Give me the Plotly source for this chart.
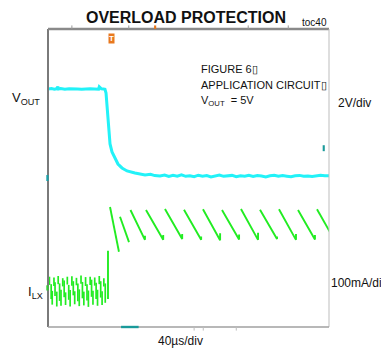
import plotly.graph_objects as go

# ---------------- data (time in µs, VOUT in V, ILX in mA) ----------------
vout_t = [0, 5, 9, 12, 14, 15, 18, 24, 30, 36, 42, 48, 54, 60, 66, 70, 72, 73, 76, 79,
          81.1, 82.6, 84.0, 85.4, 86.8, 88.3, 91.1, 95.4, 99.6, 105.3, 112.5, 123.8,
          130, 138.1, 146, 152, 159.4, 166, 172, 178, 184, 190, 196, 202, 208, 214,
          220, 226, 232, 238, 244, 250, 256, 262, 268, 274, 280, 286, 292, 298, 304,
          310, 316, 322, 328, 334, 340, 346, 352, 358, 364, 370, 376, 382, 388, 394, 400]
vout_v = [4.78, 4.80, 4.77, 4.79, 4.90, 4.78, 4.80, 4.77, 4.79, 4.80, 4.78, 4.77, 4.80,
          4.79, 4.78, 4.80, 4.77, 4.90, 4.79, 4.78,
          4.76, 4.56, 3.92, 3.00, 2.31, 1.83, 1.40, 1.02, 0.75, 0.54, 0.38, 0.27,
          0.22, 0.16, 0.20, 0.13, 0.11, 0.16, 0.08, 0.14, 0.10, 0.17, 0.09, 0.12,
          0.07, 0.15, 0.10, 0.13, 0.06, 0.12, 0.16, 0.09, 0.11, 0.14, 0.07, 0.12,
          0.10, 0.15, 0.08, 0.13, 0.11, 0.06, 0.12, 0.15, 0.09, 0.13, 0.10, 0.07,
          0.12, 0.14, 0.09, 0.11, 0.08, 0.13, 0.15, 0.12, 0.12]

# switching ripple before the overload (vertical dashes)
ilx_pre_t = [2.0, 4.5, 6.0, 8.5, 10.0, 12.5, 14.5, 16.5, 18.5, 21.0, 23.0, 25.0, 27.5,
             29.5, 31.5, 34.0, 36.0, 38.0, 40.5, 42.5, 44.5, 47.0, 49.0, 51.0, 53.5,
             55.5, 57.5, 60.0, 62.0, 64.0, 66.5, 68.5, 70.5, 73.0, 75.0, 77.0, 79.5, 81.5]
ilx_pre_hi = [30, 10, -8, 28, 15, -10, 32, 12, -5, 26, 20, -12, 30, 8, -6, 31, 18, -9,
              27, 12, -4, 33, 16, -10, 29, 10, -7, 30, 22, -8, 28, 14, -5, 32, 18, -9,
              26, 12]
ilx_pre_lo = [8, -30, -45, 5, -22, -50, 10, -35, -48, 4, -25, -46, 9, -32, -50, 6, -20,
              -44, 7, -36, -49, 11, -28, -47, 5, -34, -51, 8, -24, -45, 6, -30, -48, 10,
              -26, -46, 4, -40]

# current-limit step and hiccup sawtooth
ilx_step_t = [85.4, 85.4]
ilx_step_i = [-30, 100]
tooth_start_t = [88.3, 102.5, 117.4, 139.5, 166.5, 193.6, 220.6, 247.7, 274.7,
                 301.8, 328.8, 355.9, 382.9]
tooth_peak_i = [217, 191, 209, 209, 212, 210, 211, 209, 212, 210, 211, 209, 211]
tooth_end_t = [101.0, 115.3, 138.0, 164.0, 191.0, 218.0, 245.0, 272.0, 299.0,
               326.0, 353.0, 380.0, 408.0]
tooth_valley_i = [97, 123, 129, 129, 131, 129, 128, 130, 129, 131, 129, 130, 128]
tooth_recover_i = [97, 123, 140, 142, 145, 138, 147, 143, 148, 138, 145, 142, 128]

VOUT_GND_DIV = 4.0   # divisions from bottom
ILX_GND_DIV = 1.05
V_PER_DIV = 2.0
MA_PER_DIV = 100.0

CYAN = "#22F2F8"
GREEN = "#22EC22"
FONT = "Liberation Sans"

# ---------------- build traces ----------------
vout_y = [VOUT_GND_DIV + v / V_PER_DIV for v in vout_v]

pre_x, pre_y = [], []
for t, hi, lo in zip(ilx_pre_t, ilx_pre_hi, ilx_pre_lo):
    pre_x += [t, t, None]
    pre_y += [ILX_GND_DIV + hi / MA_PER_DIV, ILX_GND_DIV + lo / MA_PER_DIV, None]

saw_x = list(ilx_step_t) + [None]
saw_y = [ILX_GND_DIV + i / MA_PER_DIV for i in ilx_step_i] + [None]
for ts, ip, te, iv, ir in zip(tooth_start_t, tooth_peak_i, tooth_end_t,
                              tooth_valley_i, tooth_recover_i):
    saw_x += [ts, te, te, None]
    saw_y += [ILX_GND_DIV + ip / MA_PER_DIV, ILX_GND_DIV + iv / MA_PER_DIV,
              ILX_GND_DIV + ir / MA_PER_DIV, None]

fig = go.Figure()
fig.add_trace(go.Scatter(x=vout_t, y=vout_y, mode="lines",
                         line=dict(color=CYAN, width=3.0), hoverinfo="skip"))
fig.add_trace(go.Scatter(x=pre_x, y=pre_y, mode="lines", connectgaps=False,
                         line=dict(color=GREEN, width=1.7), hoverinfo="skip"))
fig.add_trace(go.Scatter(x=saw_x, y=saw_y, mode="lines", connectgaps=False,
                         line=dict(color=GREEN, width=1.9), hoverinfo="skip"))

fig.update_xaxes(range=[0, 400], showgrid=False, zeroline=False,
                 showticklabels=False, showline=False, ticks="")
fig.update_yaxes(range=[0, 8], showgrid=False, zeroline=False,
                 showticklabels=False, showline=False, ticks="")

shapes = [
    # frame
    dict(type="line", xref="paper", yref="paper", x0=0, x1=0, y0=0, y1=1,
         line=dict(color="#7a7a7a", width=2)),
    dict(type="line", xref="paper", yref="paper", x0=0, x1=1, y0=1, y1=1,
         line=dict(color="#8a8a8a", width=2.5)),
    dict(type="line", xref="paper", yref="paper", x0=1, x1=1, y0=0, y1=1,
         line=dict(color="#bdbdbd", width=1)),
    dict(type="line", xref="paper", yref="paper", x0=0, x1=1, y0=0, y1=0,
         line=dict(color="#a0a0a0", width=1.5)),
]
for tx in [34, 115, 285, 342]:
    shapes.append(dict(type="line", xref="x", yref="paper", x0=tx, x1=tx,
                       y0=1, y1=1.012, line=dict(color="#9a9a9a", width=1)))
for tx in [208, 221, 268]:
    shapes.append(dict(type="line", xref="x", yref="paper", x0=tx, x1=tx,
                       y0=0, y1=-0.012, line=dict(color="#bdbdbd", width=1)))
# orange trigger tick on top, markers
shapes += [
    dict(type="rect", xref="x", yref="paper", x0=151, x1=154, y0=1.0, y1=1.012,
         fillcolor="#E8781E", line=dict(width=0)),
    dict(type="rect", xref="x", yref="paper", x0=104, x1=129, y0=-0.004, y1=0.004,
         fillcolor="#1A9A9A", line=dict(width=0)),
    dict(type="rect", xref="paper", yref="y", x0=-0.006, x1=0.002,
         y0=VOUT_GND_DIV - 0.08, y1=VOUT_GND_DIV + 0.08,
         fillcolor="#1AA0A8", line=dict(width=0)),
    dict(type="rect", xref="paper", yref="y", x0=-0.006, x1=0.002,
         y0=ILX_GND_DIV - 0.07, y1=ILX_GND_DIV + 0.07,
         fillcolor="#33CC33", line=dict(width=0)),
    dict(type="rect", xref="x", yref="y", x0=391, x1=394,
         y0=4.72, y1=4.88, fillcolor="#1A9A9A", line=dict(width=0)),
]

# The page body adds an 8px margin; lay the figure out in reference pixel
# coordinates shifted by that offset.
OFF = 8
W, H = 389.0 - OFF, 351.0 - OFF
L, T = 48 - OFF, 29 - OFF
R = W - (329 - OFF)
B = H - (327 - OFF)
pw, ph = W - L - R, H - T - B

def px(xp):
    return (xp - OFF - L) / pw
def py(yp):
    return (H - B - (yp - OFF)) / ph

ann = []
def txt(x, y, s, size=12, xanchor="left", yanchor="middle", color="#111", bold=False):
    ann.append(dict(x=px(x), y=py(y), xref="paper", yref="paper",
                    text=("<b>%s</b>" % s) if bold else s,
                    showarrow=False, xanchor=xanchor, yanchor=yanchor,
                    font=dict(family=FONT, size=size, color=color)))

txt(186, 17, "OVERLOAD PROTECTION", size=16, xanchor="center", bold=True)
txt(314, 22, "toc40", size=10, xanchor="center")
txt(199, 69, "FIGURE 6\u25af", size=11)
txt(199, 85, "APPLICATION CIRCUIT\u25af", size=11)
txt(199, 101, "V<sub>OUT</sub>  = 5V", size=11)
txt(10, 98, "V<sub>OUT</sub>", size=13)
txt(336, 103, "2V/div", size=12)
txt(26, 292, "I<sub>LX</sub>", size=13)
txt(329, 283, "100mA/div", size=12)
txt(180, 341, "40\u00b5s/div", size=12, xanchor="center")
# trigger marker
ann.append(dict(x=91, y=py(38), xref="x", yref="paper", text="<b>T</b>", showarrow=False,
                font=dict(family=FONT, size=8, color="white"), bgcolor="#E8781E",
                borderpad=0, xanchor="center", yanchor="middle"))

fig.update_layout(width=W, height=H, margin=dict(l=L, r=R, t=T, b=B, pad=0),
                  paper_bgcolor="white", plot_bgcolor="white", showlegend=False,
                  shapes=shapes, annotations=ann)

fig.write_html("out.html")
